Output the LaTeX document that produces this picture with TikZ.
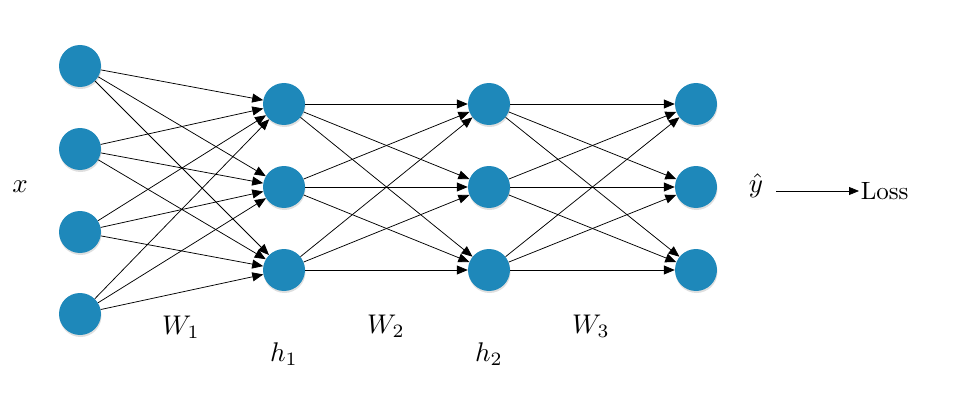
\documentclass[tikz,border=0pt]{standalone}
\usetikzlibrary{arrows.meta,shadows}
\definecolor{nodeblue}{RGB}{30,136,186}
\begin{document}
\begin{tikzpicture}[x=1pt,y=1pt,
  neuron/.style={circle,fill=nodeblue,minimum size=42pt,inner sep=0pt,
    drop shadow={opacity=0.25,shadow xshift=0.5pt,shadow yshift=-2pt}},
  conn/.style={line width=0.75pt,-{Triangle[length=11pt,width=9pt]}},
  lbl/.style={scale=2.7,transform shape,inner sep=0.5pt}]
\useasboundingbox (0,0) rectangle (962,408);
% layer 1
\foreach \i/\py in {1/66,2/149,3/232,4/314}
  \node[neuron] (a\i) at (80,408-\py) {};
\foreach \i/\py in {1/104,2/187,3/270}{
  \node[neuron] (b\i) at (284,408-\py) {};
  \node[neuron] (c\i) at (489,408-\py) {};
  \node[neuron] (d\i) at (696,408-\py) {};
}
\foreach \i in {1,...,4}
  \foreach \j in {1,2,3}
    \draw[conn] (a\i) -- (b\j);
\foreach \i in {1,2,3}
  \foreach \j in {1,2,3}{
    \draw[conn] (b\i) -- (c\j);
    \draw[conn] (c\i) -- (d\j);
  }
\node[lbl] (x) at (20,408-187) {$x$};
\node[lbl] (yh) at (756,408-186) {$\hat{y}$};
\node[scale=2.5,transform shape,inner sep=0.5pt,anchor=west] (loss) at (859,408-191) {Loss};
\coordinate (ys) at (776,408-191);
\draw[line width=0.75pt,-{Triangle[length=10pt,width=8pt]}] (ys) -- (loss.west |- ys);
\node[lbl] (w1) at (181,408-327) {$W_1$};
\node[lbl] (h1) at (284,408-354) {$h_1$};
\node[lbl] (w2) at (386,408-326) {$W_2$};
\node[lbl] (h2) at (489,408-354) {$h_2$};
\node[lbl] (w3) at (591,408-326) {$W_3$};
\end{tikzpicture}
\end{document}
